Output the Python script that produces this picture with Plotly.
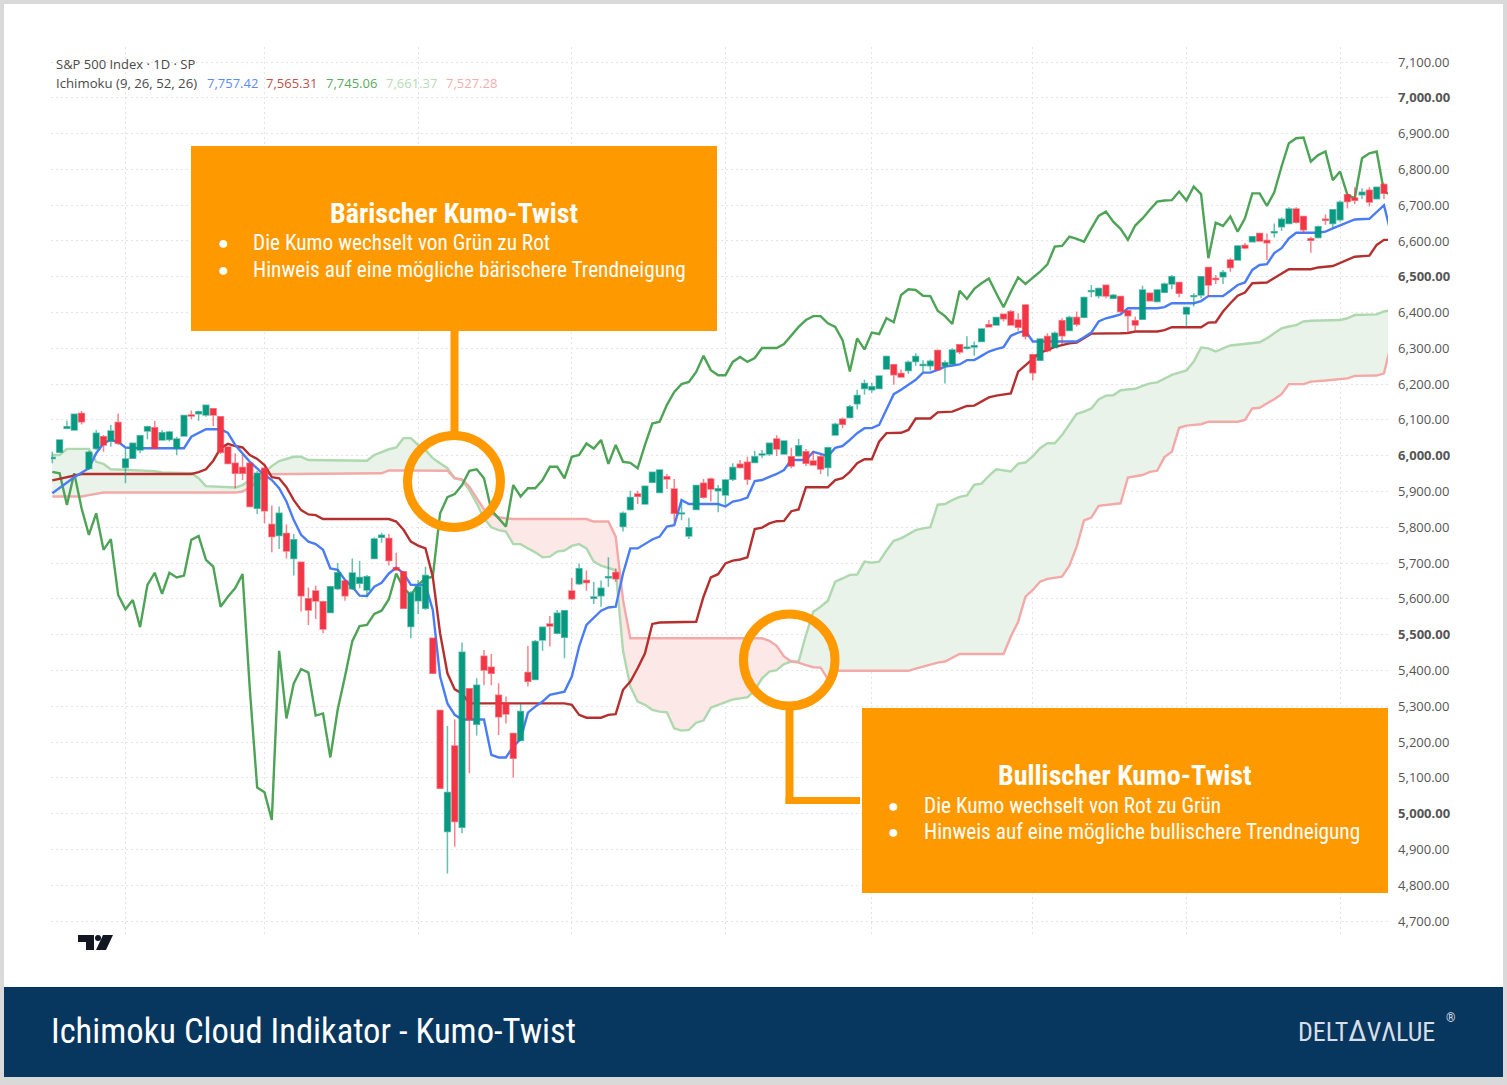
import plotly.graph_objects as go

# ---------- candles (bar index = list position) ----------
OPEN = [5992,6010,6077,6072,6118,5964,6020,6053,6041,6093,
5967,5993,6016,6069,6078,6044,6045,6021,6055,6114,
6117,6114,6131,6109,6024,5979,5967,5979,5853,5965,
5808,5777,5783,5713,5702,5600,5622,5592,5562,5628,
5650,5628,5644,5625,5713,5772,5769,5687,5676,5523,
5595,5574,5490,5288,4950,5189,4962,5349,5250,5440,
5409,5331,5308,5224,5204,5394,5375,5485,5530,5504,
5493,5622,5642,5651,5602,5609,5659,5674,5802,5850,
5893,5865,5926,5897,5941,5907,5838,5776,5850,5923,
5935,5902,5890,5934,5976,5982,5981,6002,6005,6047,
6005,5997,6000,6011,5985,5997,5967,6058,6102,6107,
6145,6188,6184,6188,6242,6254,6230,6238,6263,6252,
6251,6294,6251,6256,6310,6300,6304,6319,6366,6365,
6395,6402,6379,6421,6282,6267,6333,6302,6377,6350,
6386,6387,6459,6447,6476,6440,6445,6405,6377,6381,
6454,6431,6457,6480,6484,6396,6445,6449,6526,6495,
6500,6547,6547,6587,6598,6621,6601,6623,6640,6649,
6689,6668,6606,6610,6661,6649,6659,6729,6720,6729,
6742,6718,6758]
HIGH = [6011,6046,6098,6117,6125,6014,6072,6058,6086,6118,
6021,6036,6058,6084,6097,6072,6070,6053,6114,6126,
6126,6143,6132,6111,6025,6007,6002,5981,5957,5967,
5861,5858,5808,5781,5704,5632,5637,5595,5637,5700,
5653,5713,5706,5667,5772,5785,5781,5729,5678,5621,
5653,5690,5492,5290,5245,5263,5478,5351,5378,5457,
5446,5364,5327,5226,5308,5468,5485,5523,5552,5569,
5569,5658,5699,5679,5647,5651,5716,5685,5844,5902,
5902,5917,5955,5962,5949,5935,5872,5827,5919,5935,
5939,5918,5935,5979,5988,5997,6014,6016,6037,6057,
6043,6022,6047,6019,6013,6005,6025,6092,6107,6142,
6184,6212,6204,6225,6280,6256,6241,6266,6286,6267,
6269,6297,6266,6300,6312,6334,6319,6357,6379,6388,
6397,6407,6398,6424,6284,6328,6342,6347,6384,6391,
6403,6445,6477,6470,6478,6452,6446,6406,6389,6475,
6456,6466,6484,6505,6486,6417,6454,6502,6527,6505,
6519,6552,6589,6594,6614,6622,6621,6649,6666,6694,
6694,6670,6612,6643,6674,6688,6713,6730,6750,6747,
6750,6752,6761]
LOW = [5979,6009,6074,6070,6087,5960,6016,6011,6025,6030,
5923,5991,6007,6046,6018,6042,6040,6002,6053,6102,
6098,6109,6083,6005,5976,5909,5932,5856,5837,5811,
5730,5739,5713,5665,5565,5527,5544,5504,5560,5625,
5595,5625,5630,5605,5712,5757,5693,5679,5572,5490,
5558,5569,5390,5069,4833,4908,4945,5113,5218,5359,
5359,5220,5252,5101,5202,5355,5374,5455,5467,5502,
5434,5597,5639,5623,5586,5578,5634,5648,5788,5847,
5865,5863,5923,5895,5907,5816,5820,5767,5848,5880,
5872,5842,5862,5929,5964,5918,5979,5993,5999,5999,
6003,5965,5997,5971,5972,5949,5942,6056,6077,6104,
6130,6170,6176,6186,6240,6198,6218,6229,6251,6234,
6238,6238,6202,6254,6284,6297,6279,6317,6358,6363,
6375,6363,6349,6325,6210,6266,6289,6300,6310,6348,
6361,6384,6443,6440,6440,6437,6398,6342,6347,6379,
6431,6428,6454,6465,6443,6361,6417,6440,6445,6480,
6480,6514,6545,6577,6596,6598,6547,6610,6628,6648,
6649,6620,6567,6607,6645,6635,6654,6691,6703,6717,
6696,6716,6717]
CLOSE = [5995,6044,6081,6116,6095,6010,6063,6030,6069,6035,
5991,6035,6056,6081,6021,6064,6066,6047,6112,6111,
6123,6141,6114,6010,5978,5951,5951,5858,5951,5846,
5774,5839,5734,5765,5609,5569,5594,5516,5634,5673,
5609,5672,5660,5662,5767,5778,5707,5681,5574,5616,
5634,5665,5392,5071,5059,4978,5451,5263,5359,5401,
5392,5271,5278,5155,5285,5370,5481,5521,5524,5560,
5567,5600,5684,5646,5605,5630,5662,5656,5839,5883,
5887,5915,5954,5960,5935,5839,5840,5799,5917,5884,
5907,5908,5932,5967,5967,5934,5997,6005,6035,6019,
6041,5971,6028,5979,5974,5963,6022,6088,6088,6137,
6168,6202,6193,6223,6277,6226,6220,6261,6277,6255,
6264,6240,6260,6295,6290,6303,6307,6354,6360,6386,
6383,6365,6359,6334,6232,6326,6293,6342,6335,6386,
6367,6442,6461,6467,6446,6448,6403,6391,6365,6463,
6433,6463,6480,6500,6454,6414,6447,6500,6477,6492,
6512,6526,6586,6580,6612,6600,6595,6626,6661,6689,
6652,6631,6602,6640,6658,6687,6708,6710,6714,6736,
6709,6750,6733]

# ---------- Ichimoku lines (bar, value) ----------
TENKAN_BARS = [0,3,5,6,7,8,9,10,12,18,19,21,23,24,25,27,29,30,31,32,33,34,35,36,37,38,39,40,41,42,43,44,45,46,47,48,49,50,51,52,53,54,55,56,59,60,61,62,63,64,65,66,67,68,69,70,71,72,73,74,75,76,77,78,79,80,81,82,83,84,85,86,87,88,91,92,93,94,95,96,97,98,99,100,101,103,104,105,106,107,108,109,110,111,112,113,114,115,116,117,118,119,120,121,122,123,124,125,126,127,128,129,130,131,132,133,134,137,140,141,142,143,144,145,146,147,151,152,153,156,157,158,160,161,162,163,164,165,166,167,168,169,170,173,174,175,176,177,178,180,181,182,183]
TENKAN = [5895,5940,5965,6007,6035,6044,6039,6023,6021,6021,6053,6074,6074,6064,6030,5983,5946,5932,5909,5872,5820,5779,5760,5753,5737,5685,5681,5653,5634,5609,5608,5634,5645,5671,5687,5672,5639,5639,5639,5569,5383,5308,5276,5263,5263,5164,5157,5157,5187,5208,5282,5299,5313,5332,5336,5341,5383,5467,5527,5546,5567,5576,5578,5671,5741,5741,5753,5766,5774,5802,5806,5876,5865,5865,5865,5858,5872,5876,5883,5929,5932,5941,5949,5960,5988,5988,6011,6005,5999,6022,6027,6044,6063,6077,6077,6086,6128,6172,6184,6198,6212,6232,6232,6240,6249,6252,6255,6267,6267,6279,6291,6298,6303,6335,6344,6349,6319,6319,6319,6331,6344,6375,6384,6389,6395,6412,6412,6415,6426,6426,6432,6446,6446,6461,6477,6484,6519,6533,6535,6566,6580,6607,6623,6623,6626,6635,6643,6651,6660,6662,6682,6700,6617]

KIJUN_BARS = [0,3,4,19,20,21,22,23,24,25,26,27,28,29,30,31,32,33,34,35,36,37,46,47,48,49,50,51,52,53,54,55,56,57,70,71,72,73,75,76,77,78,79,80,81,82,83,88,89,90,91,92,93,94,95,96,97,98,99,100,101,102,103,106,107,108,109,110,111,112,113,114,116,117,118,120,121,123,124,125,126,127,128,129,131,132,133,134,135,136,137,138,139,140,141,142,146,147,148,151,152,153,157,158,159,160,161,162,163,164,166,167,168,169,172,173,175,176,177,178,180,181,182,183]
KIJUN = [5931,5946,5949,5949,5954,5962,5986,6021,6033,6027,6023,6002,5991,5974,5940,5937,5912,5876,5848,5836,5834,5823,5823,5816,5793,5760,5749,5741,5662,5504,5392,5347,5336,5308,5308,5304,5276,5268,5268,5276,5278,5346,5369,5406,5448,5530,5534,5536,5606,5660,5669,5699,5707,5710,5716,5795,5799,5811,5817,5818,5845,5850,5912,5912,5932,5937,5955,5979,5990,5990,6039,6063,6064,6072,6104,6104,6121,6123,6130,6139,6140,6151,6163,6168,6174,6235,6253,6270,6288,6295,6304,6309,6314,6316,6328,6341,6342,6343,6347,6347,6351,6359,6359,6372,6373,6403,6426,6447,6456,6482,6484,6496,6508,6521,6521,6526,6530,6539,6549,6556,6559,6589,6603,6603]

SENKOU_A_BARS = [0,1,2,5,6,7,8,14,15,19,20,21,25,26,27,28,29,30,31,33,34,35,43,44,45,46,47,48,49,50,51,52,53,54,55,56,57,58,59,60,61,62,63,64,65,66,67,68,69,70,71,72,73,74,75,77,78,79,80,81,82,83,84,85,86,87,88,89,90,91,92,93,94,95,96,97,98,99,100,101,102,103,104,105,106,107,108,109,110,111,112,113,114,115,116,117,118,119,120,121,122,123,124,125,126,127,128,129,130,131,132,133,134,135,136,137,138,139,140,141,142,143,144,145,146,147,148,149,150,151,152,153,154,155,156,157,158,159,160,161,165,166,167,168,169,170,171,172,176,177,178,181,182,183]
SENKOU_A = [6002,6002,6019,6019,5983,5977,5962,5957,5953,5951,5937,5915,5911,5918,5932,5946,5953,5971,5985,5997,5997,5988,5986,6002,6010,6018,6023,6049,6049,6030,6016,5993,5979,5965,5937,5932,5904,5867,5825,5800,5792,5788,5753,5753,5741,5730,5716,5718,5732,5735,5748,5753,5741,5704,5693,5680,5455,5355,5313,5304,5290,5285,5283,5238,5232,5234,5254,5260,5296,5304,5313,5319,5322,5325,5345,5378,5397,5401,5418,5425,5425,5499,5564,5578,5595,5648,5657,5667,5668,5704,5701,5704,5735,5762,5769,5781,5792,5797,5800,5863,5865,5876,5885,5889,5919,5922,5944,5962,5959,5956,5978,5981,5998,6021,6035,6035,6058,6086,6117,6123,6132,6157,6168,6169,6183,6185,6187,6195,6202,6205,6216,6226,6232,6238,6263,6302,6300,6291,6300,6308,6317,6328,6342,6356,6361,6365,6375,6377,6379,6384,6393,6395,6403,6407]

SENKOU_B_BARS = [0,4,5,6,7,25,26,27,28,29,45,46,54,55,56,57,58,59,60,61,62,63,73,74,76,77,78,79,97,98,99,100,101,102,103,104,105,106,107,117,118,119,120,121,122,123,124,130,131,132,133,134,135,136,137,138,139,140,141,142,143,146,147,148,149,150,151,152,153,154,155,156,157,158,162,163,164,165,166,167,168,169,171,172,174,175,176,177,178,181,182,183]
SENKOU_B = [5886,5886,5890,5893,5897,5897,5900,5911,5928,5948,5951,5959,5958,5937,5934,5913,5881,5850,5839,5828,5825,5823,5823,5816,5816,5774,5597,5490,5490,5483,5469,5439,5425,5422,5415,5409,5408,5376,5399,5399,5405,5411,5415,5422,5425,5436,5446,5446,5495,5536,5606,5625,5648,5656,5658,5662,5693,5746,5819,5827,5860,5867,5939,5942,5946,5955,5958,5996,6011,6078,6084,6086,6088,6095,6095,6100,6132,6134,6145,6158,6172,6200,6200,6207,6210,6212,6214,6216,6223,6224,6230,6314]

CHIKOU = [5955,5951,5862,5951,5853,5779,5839,5737,5767,5611,5571,5597,5521,5639,5673,5614,5673,5660,5665,5765,5776,5709,5690,5578,5606,5630,5669,5346,5073,5060,4982,5455,5266,5364,5404,5394,5274,5280,5157,5290,5383,5482,5524,5527,5558,5567,5599,5671,5630,5611,5639,5657,5662,5839,5884,5893,5918,5958,5962,5937,5848,5825,5802,5918,5886,5909,5909,5932,5969,5969,5937,5997,6002,6034,6020,6044,5977,6030,5983,5980,5965,6030,6090,6095,6142,6178,6200,6206,6234,6279,6239,6225,6225,6262,6276,6262,6273,6301,6301,6301,6312,6337,6360,6379,6390,6390,6370,6360,6323,6235,6328,6297,6344,6340,6384,6373,6449,6465,6463,6447,6446,6405,6390,6368,6461,6438,6466,6482,6495,6454,6415,6458,6498,6480,6498,6514,6535,6584,6586,6612,6606,6598,6635,6670,6682,6654,6634,6603,6643,6663,6687,6710,6713,6714,6738,6713,6752,6731,6552,6651,6642,6668,6626,6663,6733,6733,6698,6736,6808,6873,6887,6889,6822,6840,6850,6770,6794,6729,6719,6831,6845,6850,6738,6728]

Y_TICKS = list(range(4700, 7101, 100))
GRID_BARS = [10, 29, 50, 71, 92, 112, 134, 155, 176]
TWIST_BARS = [55, 102]
LEGEND_TITLE = "S&P 500 Index · 1D · SP"
LEGEND_STUDY = "Ichimoku (9, 26, 52, 26)"
LEGEND_VALUES = ["7,757.42", "7,565.31", "7,745.06", "7,661.37", "7,527.28"]
FOOTER = "Ichimoku Cloud Indikator - Kumo-Twist"
BOX1_TITLE = "Bärischer Kumo-Twist"
BOX1_LINES = ["Die Kumo wechselt von Grün zu Rot", "Hinweis auf eine mögliche bärischere Trendneigung"]
BOX2_TITLE = "Bullischer Kumo-Twist"
BOX2_LINES = ["Die Kumo wechselt von Rot zu Grün", "Hinweis auf eine mögliche bullischere Trendneigung"]

assert len(OPEN) == len(HIGH) == len(LOW) == len(CLOSE) == 183, (len(OPEN), len(HIGH), len(LOW), len(CLOSE))
assert len(TENKAN) == len(TENKAN_BARS), (len(TENKAN), len(TENKAN_BARS))
assert len(KIJUN) == len(KIJUN_BARS), (len(KIJUN), len(KIJUN_BARS))
assert len(SENKOU_A) == len(SENKOU_A_BARS), (len(SENKOU_A), len(SENKOU_A_BARS))
assert len(SENKOU_B) == len(SENKOU_B_BARS), (len(SENKOU_B), len(SENKOU_B_BARS))

W, H = 1507, 1085
def fx(p): return p / W
def fy(p): return 1 - p / H

NARROW = "'Liberation Sans Narrow', 'Roboto Condensed', Roboto, sans-serif"
AXISFONT = "'Open Sans', sans-serif"
ORANGE = "#ff9900"
BLUE, RED, GREEN = "#4a7df5", "#b4302f", "#4da356"
LGREEN, LRED = "#aed8ae", "#f3a9a7"
FGREEN, FRED = "#e9f3ea", "#fce8e6"
GRID = "#e4e4e4"

# axes geometry: bar 0 at px 52.3, 7.317 px per bar; 7100 at py 62, 4700 at py 921
X_L, X_R, Y_T, Y_B = 51, 1388, 47, 936
x_range = [(X_L - 52.3) / 7.317, (X_R - 52.3) / 7.317]
pp = 2400 / (921 - 62)
y_range = [4700 - (Y_B - 921) * pp, 7100 + (62 - Y_T) * pp]

fig = go.Figure()

def seg(bars, vals, lo, hi):
    pairs = [(b, v) for b, v in zip(bars, vals) if lo <= b <= hi]
    return [p[0] for p in pairs], [p[1] for p in pairs]

clouds = [(0, TWIST_BARS[0], FGREEN), (TWIST_BARS[0], TWIST_BARS[1], FRED), (TWIST_BARS[1], 183, FGREEN)]
for lo, hi, col in clouds:
    bx, by = seg(SENKOU_B_BARS, SENKOU_B, lo, hi)
    ax, ay = seg(SENKOU_A_BARS, SENKOU_A, lo, hi)
    fig.add_trace(go.Scatter(x=bx, y=by, mode="lines", line=dict(width=0), showlegend=False, hoverinfo="skip"))
    fig.add_trace(go.Scatter(x=ax, y=ay, mode="lines", line=dict(width=0), fill="tonexty", fillcolor=col,
                             showlegend=False, hoverinfo="skip"))

for name, bars, vals, col in [
    ("Senkou A", SENKOU_A_BARS, SENKOU_A, LGREEN),
    ("Senkou B", SENKOU_B_BARS, SENKOU_B, LRED),
    ("Chikou", list(range(len(CHIKOU))), CHIKOU, GREEN),
    ("Kijun", KIJUN_BARS, KIJUN, RED),
    ("Tenkan", TENKAN_BARS, TENKAN, BLUE),
]:
    fig.add_trace(go.Scatter(x=bars, y=vals, mode="lines", name=name, line=dict(color=col, width=2.4), showlegend=False))

fig.add_trace(go.Candlestick(
    x=list(range(len(OPEN))), open=OPEN, high=HIGH, low=LOW, close=CLOSE,
    xaxis="x2", yaxis="y2", whiskerwidth=0, showlegend=False,
    increasing=dict(line=dict(color="rgba(8,153,129,0.62)", width=1.5), fillcolor="#089981"),
    decreasing=dict(line=dict(color="rgba(242,54,69,0.62)", width=1.5), fillcolor="#f23645"),
))

def rect(x0, y0, x1, y1, col, layer="above"):
    return dict(type="rect", xref="paper", yref="paper", x0=fx(x0), x1=fx(x1), y0=fy(y0), y1=fy(y1),
                fillcolor=col, line=dict(width=0), layer=layer)

def circ(x0, y0, x1, y1):
    return dict(type="circle", xref="paper", yref="paper", x0=fx(x0), x1=fx(x1), y0=fy(y0), y1=fy(y1),
                line=dict(color=ORANGE, width=9), fillcolor="rgba(0,0,0,0)", layer="above")

def poly(points, col="#131722", layer="above"):
    d = "M " + " L ".join(f"{fx(a):.5f},{fy(b):.5f}" for a, b in points) + " Z"
    return dict(type="path", xref="paper", yref="paper", path=d, fillcolor=col, line=dict(width=0), layer=layer)

shapes = [
    rect(4, 4, 1503, 987, "#ffffff", "below"),
    rect(4, 987, 1503, 1077, "#07365f", "below"),
    rect(191, 146, 717, 331, ORANGE),
    rect(862, 708, 1388, 893, ORANGE),
    rect(450.5, 331, 458.5, 432, ORANGE),
    rect(785.5, 708, 793.5, 804, ORANGE),
    rect(785.5, 797, 860, 804, ORANGE),
    circ(407.5, 435.5, 500.5, 527.5),
    circ(743.5, 614, 835, 706),
    poly([(78, 935), (94, 935), (94, 950), (86, 950), (86, 942), (78, 942)]),
    poly([(103, 935), (113, 935), (106, 950), (96, 950)]),
    dict(type="circle", xref="paper", yref="paper", x0=fx(95), x1=fx(101), y0=fy(935), y1=fy(941),
         fillcolor="#131722", line=dict(width=0), layer="above"),
]

def text(x, y, s, size, col, anchor="left", family=NARROW):
    xx = x - 2 if anchor == "left" else x
    return dict(x=fx(xx), y=fy(y), xref="paper", yref="paper", text=s, showarrow=False, xanchor=anchor,
                yanchor="middle", align=anchor, font=dict(family=family, size=size, color=col))

ann = [
    text(56, 64, LEGEND_TITLE, 13, "#4a4a4a", family=AXISFONT),
    text(56, 83, LEGEND_STUDY, 13.2, "#4a4a4a", family=AXISFONT),
    text(454, 213, f"<b>{BOX1_TITLE}</b>", 28, "#ffffff", "center"),
    text(1125, 775, f"<b>{BOX2_TITLE}</b>", 28, "#ffffff", "center"),
    text(51, 1031, FOOTER, 34.6, "#ffffff"),
    text(1298, 1030, "DELT<span style='font-size:30px'>Δ</span>VΛLUE", 26, "#d8dee6"),
    text(1450, 1018, "®", 12, "#d8dee6", "center"),
]
for x, v, c in zip([207, 266, 326, 386, 446], LEGEND_VALUES, ["#5b8cf5", "#c0504d", "#5aa863", "#b5dcb5", "#f4aeae"]):
    ann.append(text(x, 83, v, 13, c, family=AXISFONT))
for i, (ln) in enumerate(BOX1_LINES):
    ann.append(text(223, 243 + 26 * i, "●", 18, "#ffffff", "center"))
    ann.append(text(253, 243 + 26 * i, ln, 21.3, "#ffffff"))
for i, (ln) in enumerate(BOX2_LINES):
    ann.append(text(893, 805 + 26 * i, "●", 18, "#ffffff", "center"))
    ann.append(text(924, 805 + 26 * i, ln, 21.3, "#ffffff"))

tick_text = [f"<b>{v:,.2f}</b>" if v % 500 == 0 else f"{v:,.2f}" for v in Y_TICKS]

fig.update_layout(
    width=W, height=H, margin=dict(l=0, r=0, t=0, b=0),
    paper_bgcolor="#d9d9d9", plot_bgcolor="rgba(0,0,0,0)",
    showlegend=False, hovermode=False, boxgap=0.12, boxgroupgap=0.12,
    shapes=shapes, annotations=ann,
    xaxis=dict(domain=[fx(X_L), fx(X_R)], range=x_range, tickvals=GRID_BARS, showticklabels=False, ticks="",
               showgrid=True, gridcolor=GRID, griddash="2px,3px", gridwidth=1, zeroline=False, showline=False),
    yaxis=dict(domain=[fy(Y_B), fy(Y_T)], range=y_range, side="right", tickvals=Y_TICKS, ticktext=tick_text,
               ticks="outside", ticklen=6.5, tickcolor="rgba(0,0,0,0)", tickfont=dict(family=AXISFONT, size=13, color="#555555"),
               showgrid=True, gridcolor=GRID, griddash="2px,3px", gridwidth=1, zeroline=False, showline=False),
    xaxis2=dict(domain=[fx(X_L), fx(X_R)], range=x_range, overlaying="x", visible=False, rangeslider=dict(visible=False)),
    yaxis2=dict(domain=[fy(Y_B), fy(Y_T)], range=y_range, overlaying="y", visible=False),
)

fig.write_html("out.html", config={"displayModeBar": False},
               post_script="document.body.style.margin='0';document.body.style.overflow='hidden';")
